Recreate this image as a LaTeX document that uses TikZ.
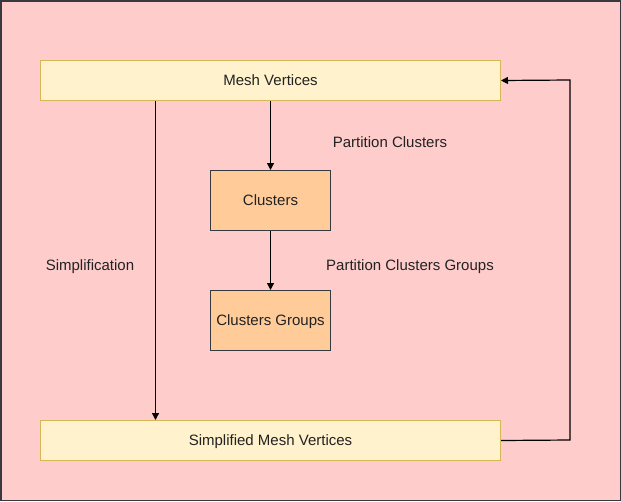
\documentclass[tikz,border=0pt]{standalone}
\usepackage{fontspec}
\setmainfont{Liberation Sans}
\usetikzlibrary{arrows.meta}
\definecolor{bgpink}{HTML}{FFCCCC}
\definecolor{frame}{HTML}{36393D}
\definecolor{yfill}{HTML}{FFF2CC}
\definecolor{ydraw}{HTML}{D6B656}
\definecolor{ofill}{HTML}{FFCC99}
\definecolor{txt}{HTML}{222222}
\begin{document}
\begin{tikzpicture}[x=1pt,y=-1pt,
  every node/.style={font=\fontsize{15}{18}\selectfont, text=txt},
  ybox/.style={draw=ydraw, fill=yfill, line width=1pt, minimum width=460pt, minimum height=40pt, inner sep=0pt, anchor=north west, text depth=0pt},
  obox/.style={draw=frame, fill=ofill, line width=1pt, minimum width=120pt, minimum height=60pt, inner sep=0pt, anchor=north west, text depth=0pt},
  conn/.style={draw=black, line width=1.2pt, -{Triangle[length=7pt,width=7pt]}},
  lbl/.style={inner sep=0pt}]
\useasboundingbox (0,0) rectangle (621,501);
\draw[frame, fill=bgpink, line width=1.5pt] (0.75,0.75) rectangle (620.25,500.25);
\node[ybox] (mesh) at (40,60) {Mesh Vertices};
\node[obox] (clusters) at (210,170) {Clusters};
\node[obox] (groups) at (210,290) {Clusters Groups};
\node[ybox] (simp) at (40,420) {Simplified Mesh Vertices};
\coordinate (c1) at (570,440);
\coordinate (c2) at (570,80);
\draw[conn] (mesh.south) -- (clusters.north);
\draw[conn] (clusters.south) -- (groups.north);
\draw[conn] ([xshift=-115pt]mesh.south) -- ([xshift=-115pt]simp.north);
\draw[conn] (simp.east) -- (c1) -- (c2) -- (mesh.east);
\node[lbl] (l1) at (390,142) {Partition Clusters};
\node[lbl] (l2) at (410,267) {Partition Clusters Groups};
\node[lbl] (l3) at (90,267) {Simplification};
\end{tikzpicture}
\end{document}
